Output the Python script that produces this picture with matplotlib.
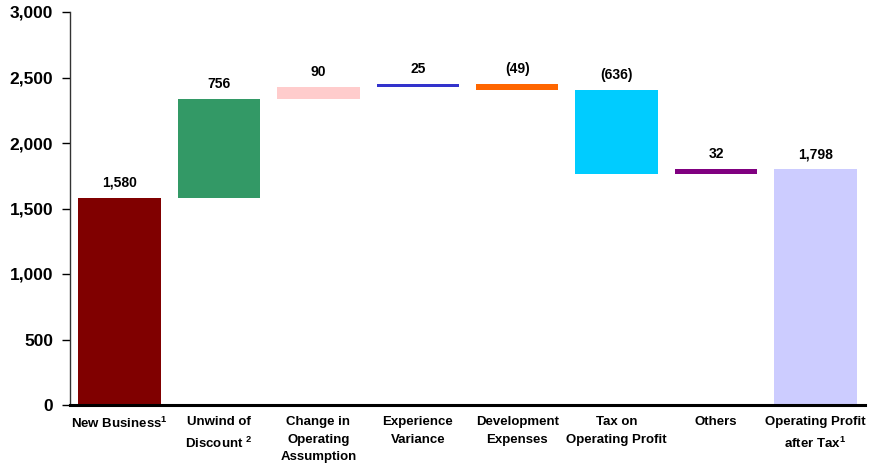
import numpy as np
import matplotlib.pyplot as plt

# waterfall from new business to operating profit after tax
categories = [r"New Business$^{\mathbf{1}}$", "Unwind of\n" + r"Discount $^{\mathbf{2}}$",
              "Change in\nOperating\nAssumption", "Experience\nVariance", "Development\nExpenses",
              "Tax on\nOperating Profit", "Others", "Operating Profit\n" + r"after Tax$^{\mathbf{1}}$"]
values = [1580, 756, 90, 25, -49, -636, 32, 1798]
colors = ["#800000", "#339966", "#FFCCCC", "#3333CC", "#FF6600", "#00CCFF", "#800080", "#CCCCFF"]
yticks = [0, 500, 1000, 1500, 2000, 2500, 3000]

plt.rcParams["font.family"] = ["Liberation Sans", "DejaVu Sans"]
plt.rcParams["font.weight"] = "bold"
plt.rcParams["mathtext.fontset"] = "custom"
plt.rcParams["mathtext.bf"] = "Liberation Sans:bold"
plt.rcParams["mathtext.rm"] = "Liberation Sans:bold"


def fmt(v):
    s = "{:,}".format(abs(v))
    return "(" + s + ")" if v < 0 else s


def main():
    fig = plt.figure(figsize=(8.71, 4.72), dpi=100)
    ax = fig.add_axes([70 / 871, 1 - 405 / 472, 795 / 871, 393 / 472])

    # bottoms: first and last bars start from zero, the rest float on the running total
    bottoms = []
    heights = []
    running = 0
    for i, v in enumerate(values):
        if i == 0 or i == len(values) - 1:
            bottoms.append(0)
            heights.append(v)
            running = v
        else:
            bottoms.append(running if v >= 0 else running + v)
            heights.append(abs(v))
            running += v

    x = np.arange(len(values))
    ax.bar(x, heights, bottom=bottoms, width=0.83, color=colors, zorder=2)

    for xi, b, h, v in zip(x, bottoms, heights, values):
        ax.annotate(fmt(v), (xi, b + h), xytext=(0, 6), textcoords="offset points",
                    ha="center", va="bottom", fontsize=10, fontweight="bold")

    ax.set_xlim(-0.5, 7.5)
    ax.set_ylim(0, 3000)
    ax.set_yticks(yticks)
    ax.set_yticklabels(["{:,}".format(t) for t in yticks], fontsize=12.5, fontweight="bold")
    ax.set_xticks(x)
    ax.set_xticklabels(categories, fontsize=9.5, fontweight="bold", va="top", linespacing=1.6)
    ax.tick_params(axis="x", length=0, pad=8)
    ax.tick_params(axis="y", direction="out", length=6, width=1, pad=6)

    ax.spines["top"].set_visible(False)
    ax.spines["right"].set_visible(False)
    ax.spines["left"].set_color("#333333")
    ax.spines["left"].set_linewidth(1)
    ax.spines["bottom"].set_linewidth(2.2)
    ax.spines["bottom"].set_zorder(3)

    fig.savefig("out.png", dpi=100)


if __name__ == "__main__":
    main()
